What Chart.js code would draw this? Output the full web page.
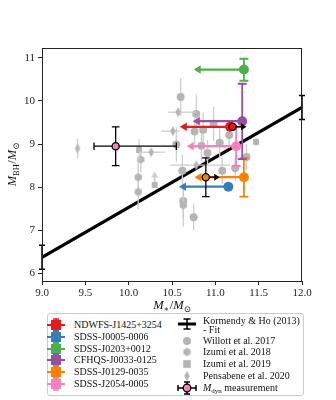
<!DOCTYPE html>
<html>
<head>
<meta charset="utf-8">
<script src="https://cdn.jsdelivr.net/npm/chart.js@4.4.1/dist/chart.umd.min.js"></script>
<style>
html,body{margin:0;padding:0;background:#fff;}
#wrap{position:relative;width:336px;height:400px;overflow:hidden;}
#c{position:absolute;left:0;top:0;}
#legend{position:absolute;left:47px;top:313px;width:257px;height:83px;border:1px solid #cccccc;border-radius:3px;box-sizing:border-box;font-family:"Liberation Serif",serif;font-size:10px;color:#111;background:#fff;}
.item{position:absolute;height:12px;line-height:12px;white-space:nowrap;}
.item canvas{position:absolute;top:0;}
.item span.t{position:absolute;top:0;}
sub{font-size:7px;vertical-align:-2px;line-height:0;}
</style>
</head>
<body>
<div id="wrap">
<canvas id="c" width="336" height="400"></canvas>
<div id="legend"></div>
</div>
<script>
// ---------------- DATA ----------------
const xTicks = [9.0, 9.5, 10.0, 10.5, 11.0, 11.5, 12.0];
const yTicks = [6, 7, 8, 9, 10, 11];

// Kormendy & Ho (2013) fit
const fitMstar = [9.0, 12.0];
const fitMbh = [6.37, 9.85];
const fitScatter = [0.28, 0.28];

// quasars of this work (upper limits on M*)
const qsoNames = ['NDWFS-J1425+3254', 'SDSS-J0005-0006', 'SDSS-J0203+0012', 'CFHQS-J0033-0125', 'SDSS-J0129-0035', 'SDSS-J2054-0005'];
const qsoMstar = [11.17, 11.15, 11.33, 11.31, 11.33, 11.24];
const qsoMbh = [9.40, 8.01, 10.73, 9.53, 8.23, 8.95];
const qsoMbhErrLow = [0, 0, 0.26, 0.88, 0.45, 0.46];
const qsoMbhErrHigh = [0, 0, 0.25, 0.87, 0.44, 0.45];
const qsoLimitTip = [10.59, 10.58, 10.75, 10.74, 10.76, 10.67];

// dynamical-mass measurements
const dynQso = [0, 4, 5];
const dynMass = [11.20, 10.89, 9.85];
const dynMbh = [9.40, 8.23, 8.95];
const dynMassErrLow = [0, 0, 0.25];
const dynMassErrHigh = [0, 0, 0.70];
const dynMbhErr = [0, 0.45, 0.45];
const dynLimitTip = [11.36, 11.05, null];

// literature
const willottMstar = [10.60, 10.78, 10.76, 10.86, 10.98, 11.16, 10.55, 10.84, 11.05, 10.91, 11.36, 10.62, 11.08, 11.23, 10.63, 10.75];
const willottMbh = [10.09, 9.70, 9.29, 9.33, 9.47, 9.21, 8.99, 8.96, 9.03, 8.79, 8.70, 8.38, 8.38, 8.44, 7.68, 7.30];
const willottMbhErr = [0.43, 0.45, 0.30, 0.40, 0.40, 0.30, 0.40, 0.35, 0.35, 0.30, 0.30, 0.37, 0.30, 0.30, 0.40, 0.30];

const izumi18Mstar = [10.14, 10.11, 10.11, 10.63];
const izumi18Mbh = [8.64, 8.23, 7.89, 7.58];
const izumi18MbhErr = [0.30, 0.35, 0.40, 0.50];

const izumi19Mstar = [10.12, 10.30, 11.47];
const izumi19Mbh = [8.86, 8.05, 9.05];
const izumi19MbhErr = [0.25, 0, 0.10];
const izumi19LimitTip = [null, 8.36, null];

const pensMstar = [9.41, 10.26, 10.51, 10.57, 10.78];
const pensMbh = [8.90, 8.81, 9.30, 9.74, 8.51];
const pensMstarErrLow = [0, 0.14, 0.13, 0.12, 0.30];
const pensMstarErrHigh = [0, 0.16, 0.08, 0.21, 0.39];
const pensMbhErr = [0.23, 0, 0, 0, 0];

// ---------------- STYLE ----------------
const qsoColors = ['#e41a1c', '#377eb8', '#4daf4a', '#984ea3', '#ff7f00', '#f781bf'];
const greyMarker = '#b5b5b5';
const greyBar = '#cdcdcd';
const serif = '"Liberation Serif", "DejaVu Serif", serif';

function makeHex(r, color) {
  const s = Math.ceil(2 * r + 2);
  const c = document.createElement('canvas'); c.width = s; c.height = s;
  const g = c.getContext('2d'); g.fillStyle = color; g.beginPath();
  for (let i = 0; i < 6; i++) {
    const a = -Math.PI / 2 + i * Math.PI / 3;
    const px = s / 2 + r * Math.cos(a), py = s / 2 + r * Math.sin(a);
    i ? g.lineTo(px, py) : g.moveTo(px, py);
  }
  g.closePath(); g.fill(); return c;
}
function makeThinDiamond(w, h, color) {
  const c = document.createElement('canvas'); c.width = Math.ceil(w + 2); c.height = Math.ceil(h + 2);
  const g = c.getContext('2d'); g.fillStyle = color; const cx = c.width / 2, cy = c.height / 2;
  g.beginPath(); g.moveTo(cx, cy - h / 2); g.lineTo(cx + w / 2, cy); g.lineTo(cx, cy + h / 2); g.lineTo(cx - w / 2, cy); g.closePath(); g.fill();
  return c;
}
const hexImg = makeHex(4.2, greyMarker);
const diaImg = makeThinDiamond(5.5, 10, greyMarker);

// ---------------- DATASETS ----------------
const pts = (xs, ys) => xs.map((x, i) => ({ x: x, y: ys[i] }));

const datasets = [];

// fit
datasets.push({
  type: 'line', label: 'Kormendy & Ho (2013) - Fit', order: 20,
  data: pts(fitMstar, fitMbh), borderColor: '#000', borderWidth: 3.2, pointRadius: 0, fill: false,
  errorBars: fitMstar.map((x, i) => ({ x: x, y: fitMbh[i], ylo: fitMbh[i] - fitScatter[i], yhi: fitMbh[i] + fitScatter[i], color: '#000', lw: 1.5, cap: 3 }))
});

// literature
datasets.push({
  type: 'scatter', label: 'Willott et al. 2017', order: 15,
  data: pts(willottMstar, willottMbh), pointStyle: 'circle', pointRadius: 4, backgroundColor: greyMarker, borderWidth: 0,
  errorBars: willottMstar.map((x, i) => ({ x: x, y: willottMbh[i], ylo: willottMbh[i] - willottMbhErr[i], yhi: willottMbh[i] + willottMbhErr[i], color: greyBar, lw: 1.3, cap: 0 }))
});
datasets.push({
  type: 'scatter', label: 'Izumi et al. 2018', order: 14,
  data: pts(izumi18Mstar, izumi18Mbh), pointStyle: hexImg, pointRadius: 4, backgroundColor: greyMarker, borderWidth: 0,
  errorBars: izumi18Mstar.map((x, i) => ({ x: x, y: izumi18Mbh[i], ylo: izumi18Mbh[i] - izumi18MbhErr[i], yhi: izumi18Mbh[i] + izumi18MbhErr[i], color: greyBar, lw: 1.3, cap: 0 }))
});
datasets.push({
  type: 'scatter', label: 'Izumi et al. 2019', order: 13,
  data: pts(izumi19Mstar, izumi19Mbh), pointStyle: 'rect', pointRadius: 4.2, backgroundColor: greyMarker, borderWidth: 0,
  errorBars: izumi19Mstar.map((x, i) => ({ x: x, y: izumi19Mbh[i], ylo: izumi19Mbh[i] - izumi19MbhErr[i], yhi: izumi19Mbh[i] + izumi19MbhErr[i], color: greyBar, lw: 1.3, cap: 0 })),
  arrows: izumi19Mstar.map((x, i) => izumi19LimitTip[i] == null ? null : ({ x: x, y: izumi19Mbh[i], tx: x, ty: izumi19LimitTip[i], color: greyBar, lw: 1.5, head: 6, hw: 3.5 })).filter(a => a)
});
datasets.push({
  type: 'scatter', label: 'Pensabene et al. 2020', order: 12,
  data: pts(pensMstar, pensMbh), pointStyle: diaImg, pointRadius: 4, backgroundColor: greyMarker, borderWidth: 0,
  errorBars: pensMstar.map((x, i) => ({ x: x, y: pensMbh[i], xlo: x - pensMstarErrLow[i], xhi: x + pensMstarErrHigh[i], ylo: pensMbh[i] - pensMbhErr[i], yhi: pensMbh[i] + pensMbhErr[i], color: greyBar, lw: 1.3, cap: 0 }))
});

// quasars
qsoNames.forEach((name, i) => {
  datasets.push({
    type: 'scatter', label: name, order: 5,
    data: [{ x: qsoMstar[i], y: qsoMbh[i] }], pointStyle: 'circle', pointRadius: 5, backgroundColor: qsoColors[i], borderWidth: 0,
    errorBars: [{ x: qsoMstar[i], y: qsoMbh[i], ylo: qsoMbh[i] - qsoMbhErrLow[i], yhi: qsoMbh[i] + qsoMbhErrHigh[i], color: qsoColors[i], lw: 1.8, cap: 4.5 }],
    arrows: [{ x: qsoMstar[i], y: qsoMbh[i], tx: qsoLimitTip[i], ty: qsoMbh[i], color: qsoColors[i], lw: 2.2, head: 7, hw: 4.2 }]
  });
});

// dynamical masses
dynMass.forEach((m, i) => {
  const c = qsoColors[dynQso[i]];
  const eb = { x: m, y: dynMbh[i], color: '#000', lw: 1.3, cap: 3.8 };
  if (dynMassErrLow[i] || dynMassErrHigh[i]) { eb.xlo = m - dynMassErrLow[i]; eb.xhi = m + dynMassErrHigh[i]; }
  if (dynMbhErr[i]) { eb.ylo = dynMbh[i] - dynMbhErr[i]; eb.yhi = dynMbh[i] + dynMbhErr[i]; }
  datasets.push({
    type: 'scatter', label: 'M_dyn ' + qsoNames[dynQso[i]], order: 1,
    data: [{ x: m, y: dynMbh[i] }], pointStyle: 'circle', pointRadius: 3.6, backgroundColor: c, borderColor: '#000', borderWidth: 1.3,
    errorBars: [eb],
    arrows: dynLimitTip[i] == null ? [] : [{ x: m, y: dynMbh[i], tx: dynLimitTip[i], ty: dynMbh[i], color: '#000', lw: 1.4, head: 5.5, hw: 3.5 }]
  });
});

// ---------------- PLUGINS ----------------
const errPlugin = {
  id: 'errbars',
  beforeDatasetDraw(chart, args) {
    const ds = chart.data.datasets[args.index];
    const sx = chart.scales.x, sy = chart.scales.y, ctx = chart.ctx;
    ctx.save();
    ctx.lineCap = 'butt';
    (ds.errorBars || []).forEach(e => {
      ctx.strokeStyle = e.color; ctx.lineWidth = e.lw;
      const X = sx.getPixelForValue(e.x), Y = sy.getPixelForValue(e.y);
      if (e.xlo != null) {
        const a = sx.getPixelForValue(e.xlo), b = sx.getPixelForValue(e.xhi);
        ctx.beginPath(); ctx.moveTo(a, Y); ctx.lineTo(b, Y); ctx.stroke();
        if (e.cap) { ctx.beginPath(); ctx.moveTo(a, Y - e.cap); ctx.lineTo(a, Y + e.cap); ctx.moveTo(b, Y - e.cap); ctx.lineTo(b, Y + e.cap); ctx.stroke(); }
      }
      if (e.ylo != null && e.yhi !== e.ylo) {
        const a = sy.getPixelForValue(e.ylo), b = sy.getPixelForValue(e.yhi);
        ctx.beginPath(); ctx.moveTo(X, a); ctx.lineTo(X, b); ctx.stroke();
        if (e.cap) { ctx.beginPath(); ctx.moveTo(X - e.cap, a); ctx.lineTo(X + e.cap, a); ctx.moveTo(X - e.cap, b); ctx.lineTo(X + e.cap, b); ctx.stroke(); }
      }
    });
    (ds.arrows || []).forEach(a => {
      const X = sx.getPixelForValue(a.x), Y = sy.getPixelForValue(a.y);
      const TX = sx.getPixelForValue(a.tx), TY = sy.getPixelForValue(a.ty);
      const L = Math.hypot(TX - X, TY - Y), ux = (TX - X) / L, uy = (TY - Y) / L;
      const bx = TX - ux * a.head, by = TY - uy * a.head;
      ctx.strokeStyle = a.color; ctx.fillStyle = a.color; ctx.lineWidth = a.lw;
      ctx.beginPath(); ctx.moveTo(X, Y); ctx.lineTo(bx + ux, by + uy); ctx.stroke();
      ctx.beginPath(); ctx.moveTo(TX, TY); ctx.lineTo(bx - uy * a.hw, by + ux * a.hw); ctx.lineTo(bx + uy * a.hw, by - ux * a.hw); ctx.closePath(); ctx.fill();
    });
    ctx.restore();
  }
};

function drawRich(ctx, parts, cx, baseY) {
  let w = 0;
  parts.forEach(p => { ctx.font = p.font; w += ctx.measureText(p.t).width + (p.gap || 0); });
  let x = cx - w / 2;
  parts.forEach(p => { ctx.font = p.font; ctx.fillText(p.t, x, baseY + (p.dy || 0)); x += ctx.measureText(p.t).width + (p.gap || 0); });
}

const framePlugin = {
  id: 'frame',
  afterDatasetsDraw(chart) {
    const { ctx, chartArea: a } = chart;
    ctx.save();
    ctx.strokeStyle = '#222'; ctx.lineWidth = 1;
    ctx.strokeRect(Math.round(a.left) + 0.5, Math.round(a.top) + 0.5, Math.round(a.right - a.left) - 1, Math.round(a.bottom - a.top));
    ctx.restore();
  },
  afterDraw(chart) {
    const { ctx, chartArea: a } = chart;
    ctx.save();
    ctx.fillStyle = '#111'; ctx.textBaseline = 'alphabetic'; ctx.textAlign = 'left';
    const big = 'italic 12.5px ' + serif, med = '12.5px ' + serif, sub = '8.5px ' + serif, subI = 'italic 8.5px ' + serif;
    // x title
    drawRich(ctx, [
      { t: 'M', font: big }, { t: '∗', font: sub, dy: 2.5, gap: 0.5 },
      { t: '/', font: med }, { t: 'M', font: big }, { t: '⊙', font: sub, dy: 2.5 }
    ], (a.left + a.right) / 2, 309);
    // y title
    ctx.translate(16, (a.top + a.bottom) / 2);
    ctx.rotate(-Math.PI / 2);
    drawRich(ctx, [
      { t: 'M', font: big }, { t: 'BH', font: sub, dy: 2.5, gap: 0.5 },
      { t: '/', font: med }, { t: 'M', font: big }, { t: '⊙', font: sub, dy: 2.5 }
    ], 0, 0);
    ctx.restore();
  }
};

// ---------------- CHART ----------------
const tickFont = { family: serif, size: 11 };
new Chart(document.getElementById('c'), {
  data: { datasets: datasets },
  plugins: [errPlugin, framePlugin],
  options: {
    responsive: false, animation: false, events: [],
    layout: { padding: { left: 0, top: 48, right: 34, bottom: 85 } },
    plugins: { legend: { display: false }, tooltip: { enabled: false } },
    scales: {
      x: {
        type: 'linear', min: 9, max: 12,
        afterBuildTicks: ax => { ax.ticks = xTicks.map(v => ({ value: v })); },
        afterFit: s => { s.height = 34; },
        ticks: { callback: v => Number(v).toFixed(1), font: tickFont, color: '#222', padding: 2, maxRotation: 0, autoSkip: false },
        grid: { display: true, drawOnChartArea: false, drawTicks: true, tickLength: 4, color: '#222', lineWidth: 1 },
        border: { display: false }
      },
      y: {
        type: 'linear', min: 5.82, max: 11.23,
        afterBuildTicks: ax => { ax.ticks = yTicks.map(v => ({ value: v })); },
        afterFit: s => { s.width = 42; },
        ticks: { callback: v => String(v), font: tickFont, color: '#222', padding: 3, autoSkip: false },
        grid: { display: true, drawOnChartArea: false, drawTicks: true, tickLength: 4, color: '#222', lineWidth: 1 },
        border: { display: false }
      }
    }
  }
});

// ---------------- LEGEND (HTML) ----------------
const legendEl = document.getElementById('legend');
function addItem(left, textLeft, centerY, html, draw, markerTop) {
  const d = document.createElement('div'); d.className = 'item';
  d.style.left = '0px'; d.style.top = (centerY - 6) + 'px';
  const cv = document.createElement('canvas'); cv.width = 24; cv.height = 16;
  cv.style.left = (left - 12) + 'px'; cv.style.top = (markerTop != null ? markerTop : -2) + 'px';
  draw(cv.getContext('2d'), 12, 8);
  d.appendChild(cv);
  const s = document.createElement('span'); s.className = 't'; s.style.left = textLeft + 'px'; s.innerHTML = html;
  d.appendChild(s);
  legendEl.appendChild(d);
}
function qsoMarker(color) {
  return (g, cx, cy) => {
    g.strokeStyle = color; g.fillStyle = color; g.lineWidth = 2;
    g.beginPath(); g.moveTo(cx - 9, cy); g.lineTo(cx + 9, cy); g.stroke();
    g.lineWidth = 1.5; g.beginPath(); g.moveTo(cx, cy - 6); g.lineTo(cx, cy + 6); g.moveTo(cx - 3, cy - 6); g.lineTo(cx + 3, cy - 6); g.moveTo(cx - 3, cy + 6); g.lineTo(cx + 3, cy + 6); g.stroke();
    g.fillRect(cx - 5, cy - 5, 10, 10);
  };
}
const leftRows = [11, 22.8, 34.6, 46.4, 58.2, 70];
qsoNames.forEach((n, i) => addItem(8, 26, leftRows[i], n, qsoMarker(qsoColors[i])));

// right column
const kd = document.createElement('div'); kd.className = 'item';
kd.style.top = '0px'; kd.style.left = '0px'; kd.style.height = '24px';
const kc = document.createElement('canvas'); kc.width = 24; kc.height = 16; kc.style.left = (139 - 12) + 'px'; kc.style.top = '2px';
(function (g, cx, cy) {
  g.strokeStyle = '#000'; g.lineWidth = 3;
  g.beginPath(); g.moveTo(cx - 9, cy); g.lineTo(cx + 9, cy); g.stroke();
  g.lineWidth = 1.5; g.beginPath(); g.moveTo(cx, cy - 5); g.lineTo(cx, cy + 5); g.moveTo(cx - 3.5, cy - 5); g.lineTo(cx + 3.5, cy - 5); g.moveTo(cx - 3.5, cy + 5); g.lineTo(cx + 3.5, cy + 5); g.stroke();
})(kc.getContext('2d'), 12, 8);
kd.appendChild(kc);
const ks = document.createElement('span'); ks.className = 't'; ks.style.left = '155px'; ks.style.lineHeight = '9px'; ks.style.top = '2px';
ks.innerHTML = 'Kormendy &amp; Ho (2013)<br>- Fit';
kd.appendChild(ks);
legendEl.appendChild(kd);

addItem(139, 155, 26.5, 'Willott et al. 2017', (g, cx, cy) => { g.fillStyle = greyMarker; g.beginPath(); g.arc(cx, cy, 4, 0, 2 * Math.PI); g.fill(); });
addItem(139, 155, 38.4, 'Izumi et al. 2018', (g, cx, cy) => { g.drawImage(hexImg, cx - hexImg.width / 2, cy - hexImg.height / 2); });
addItem(139, 155, 50.2, 'Izumi et al. 2019', (g, cx, cy) => { g.fillStyle = greyMarker; g.fillRect(cx - 3.8, cy - 3.8, 7.6, 7.6); });
addItem(139, 155, 62, 'Pensabene et al. 2020', (g, cx, cy) => { g.drawImage(diaImg, cx - diaImg.width / 2, cy - diaImg.height / 2); });
addItem(139, 155, 73.6, '<i>M</i><sub>dyn</sub> measurement', (g, cx, cy) => {
  g.strokeStyle = '#000'; g.lineWidth = 1.5;
  g.beginPath(); g.moveTo(cx - 9, cy); g.lineTo(cx + 9, cy); g.moveTo(cx - 9, cy - 3); g.lineTo(cx - 9, cy + 3); g.moveTo(cx + 9, cy - 3); g.lineTo(cx + 9, cy + 3);
  g.moveTo(cx, cy - 6); g.lineTo(cx, cy + 6); g.moveTo(cx - 3, cy - 6); g.lineTo(cx + 3, cy - 6); g.moveTo(cx - 3, cy + 6); g.lineTo(cx + 3, cy + 6); g.stroke();
  g.fillStyle = '#f781bf'; g.lineWidth = 1.3; g.beginPath(); g.arc(cx, cy, 3.8, 0, 2 * Math.PI); g.fill(); g.stroke();
});
</script>
</body>
</html>
